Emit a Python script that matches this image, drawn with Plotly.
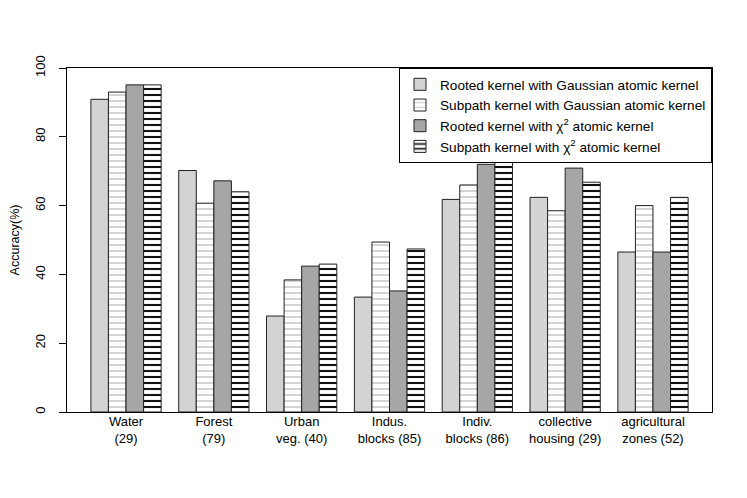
import plotly.graph_objects as go

categories = ["Water<br>(29)", "Forest<br>(79)", "Urban<br>veg. (40)", "Indus.<br>blocks (85)",
              "Indiv.<br>blocks (86)", "collective<br>housing (29)", "agricultural<br>zones (52)"]

rooted_gauss = [90.9, 70.2, 27.9, 33.4, 61.8, 62.4, 46.5]
subpath_gauss = [93.0, 60.7, 38.4, 49.4, 66.0, 58.5, 60.0]
rooted_chi2 = [95.1, 67.2, 42.4, 35.2, 72.0, 70.9, 46.5]
subpath_chi2 = [95.1, 64.0, 43.0, 47.4, 72.6, 66.8, 62.4]

series_names = ["Rooted kernel with Gaussian atomic kernel",
                "Subpath kernel with Gaussian atomic kernel",
                "Rooted kernel with \u03c7<sup>2</sup> atomic kernel",
                "Subpath kernel with \u03c7<sup>2</sup> atomic kernel"]

fig = go.Figure()

# solid grey fills
fig.add_trace(go.Bar(x=categories, y=rooted_gauss, name=series_names[0],
                     marker=dict(color="#d3d3d3", line=dict(color="#222222", width=1))))
# white with faint grey stripes
fig.add_trace(go.Bar(x=categories, y=subpath_gauss, name=series_names[1],
                     marker=dict(color="white", line=dict(color="#222222", width=1),
                                 pattern=dict(shape="-", fgcolor="#d0d0d0", bgcolor="white",
                                              size=6, solidity=0.3, fillmode="replace"))))
fig.add_trace(go.Bar(x=categories, y=rooted_chi2, name=series_names[2],
                     marker=dict(color="#a6a6a6", line=dict(color="#222222", width=1))))
# white with black stripes
fig.add_trace(go.Bar(x=categories, y=subpath_chi2, name=series_names[3],
                     marker=dict(color="white", line=dict(color="#222222", width=1),
                                 pattern=dict(shape="-", fgcolor="#111111", bgcolor="white",
                                              size=6, solidity=0.35, fillmode="replace"))))

# page body has an 8px margin, so the figure is shrunk by that much
fig.update_layout(
    width=739, height=490,
    barmode="group", bargap=0.2, bargroupgap=0,
    plot_bgcolor="white", paper_bgcolor="white",
    font=dict(family="Liberation Sans, Arial, sans-serif", size=13, color="black"),
    margin=dict(l=59, r=35, t=60, b=86),
    showlegend=True,
    legend=dict(x=1, xanchor="right", y=1, yanchor="top",
                bgcolor="white", bordercolor="black", borderwidth=1,
                font=dict(size=13.6), tracegroupgap=0, itemwidth=30),
)

fig.update_xaxes(range=[-0.672, 6.672], showline=True, linecolor="black", linewidth=1,
                 mirror=True, ticks="", showgrid=False, tickangle=0, ticklabelstandoff=-3,
                 automargin=False)
fig.update_yaxes(range=[0, 100], tickvals=[0, 20, 40, 60, 80, 100], ticks="outside",
                 ticklen=7, tickcolor="black", showline=True, linecolor="black", linewidth=1,
                 mirror=True, showgrid=False, zeroline=False, tickangle=-90,
                 ticklabelstandoff=9, automargin=False,
                 title=dict(text="Accuracy(%)", standoff=18, font=dict(size=12.5)))

fig.write_html("out.html")
